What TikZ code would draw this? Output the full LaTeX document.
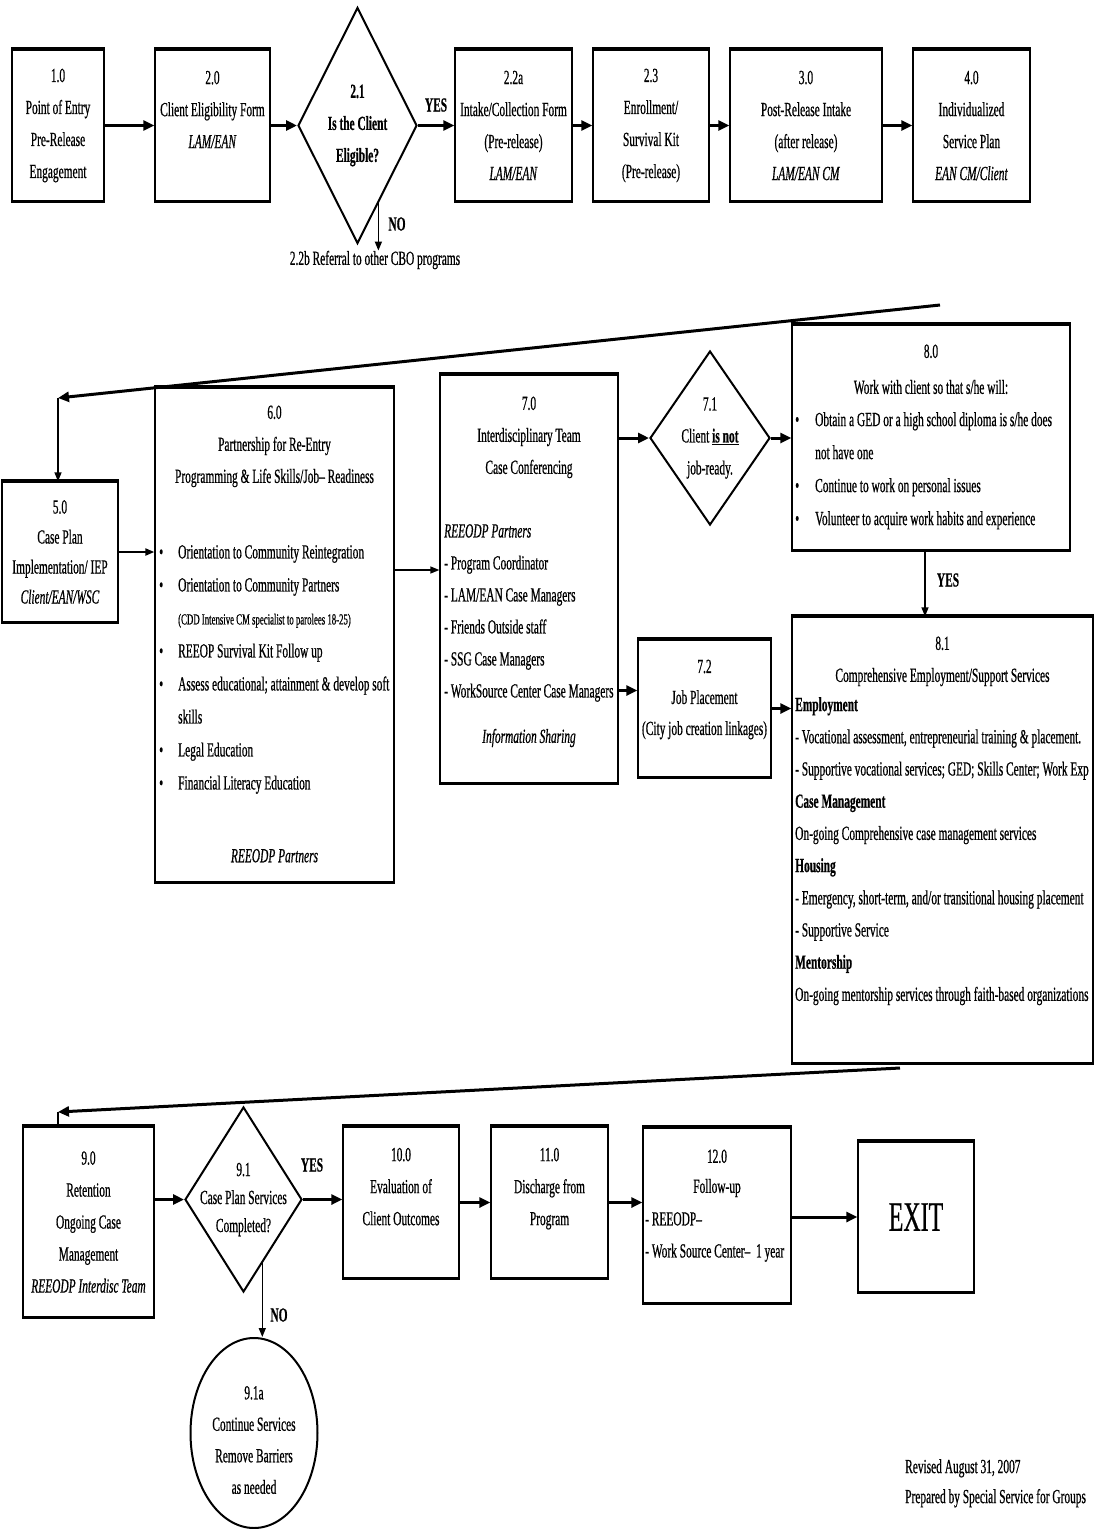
\documentclass[tikz,border=0pt]{standalone}
\usepackage{fontspec}
\setmainfont{Liberation Serif}[FakeStretch=0.57,FakeBold=0.6]
\usepackage{tikz}
\usetikzlibrary{positioning,shapes.geometric,arrows.meta,calc}

\newcommand{\bx}{\fontsize{20}{32}\selectfont}
\newcommand{\listbul}{\makebox[19pt][l]{\textbullet}}

\begin{document}
\begin{tikzpicture}[x=1pt,y=-1pt,
		every node/.style={font=\bx, inner sep=0pt},
		box/.style={rectangle, draw, line width=1.3pt, align=center},
		dec/.style={diamond, draw, line width=2pt},
		txt/.style={align=center},
		lst/.style={align=left},
		lbl/.style={font=\bx\bfseries},
		arr/.style={-{Triangle[length=11pt,width=10pt]}, line width=3pt},
		tarr/.style={-{Triangle[length=9pt,width=7pt]}, line width=1.4pt}
	]
	\useasboundingbox (0,0) rectangle (1094,1529);

	% prima riga
	\node[box, minimum width=92pt, minimum height=151pt] (n10) at (58,125.5) {1.0\\Point of Entry\\Pre-Release\\Engagement};
	\node[box, minimum width=115pt, minimum height=151pt] (n20) at (212.5,125.5) {2.0\\Client Eligibility Form\\\textit{LAM/EAN}\\\mbox{}};
	\node[dec, minimum width=119pt, minimum height=236pt] (n21) at (357.5,125.5) {};
	\node[txt, lbl] (n21t) at (n21) {2.1\\Is the Client\\Eligible?};
	\node[box, minimum width=117pt, minimum height=151pt] (n22a) at (513.5,125.5) {2.2a\\Intake/Collection Form\\(Pre-release)\\\textit{LAM/EAN}};
	\node[box, minimum width=116pt, minimum height=151pt] (n23) at (651,125.5) {2.3\\Enrollment/\\Survival Kit\\(Pre-release)};
	\node[box, minimum width=152pt, minimum height=151pt] (n30) at (806,125.5) {3.0\\Post-Release Intake\\(after release)\\\textit{LAM/EAN CM}};
	\node[box, minimum width=117pt, minimum height=151pt] (n40) at (971.5,125.5) {4.0\\Individualized\\Service Plan\\\textit{EAN CM/Client}};
	\node (n22b) at (375,260) {2.2b Referral to other CBO programs};
	\node[lbl] (lyes1) at (436,105) {YES};
	\node[lbl] (lno1) at (397,224) {NO};

	% seconda riga
	\node[box, minimum width=116pt, minimum height=140pt, font=\fontsize{20}{30}\selectfont] (n50) at (60,552) {5.0\\Case Plan\\Implementation/ IEP\\\textit{Client/EAN/WSC}};

	\node[box, minimum width=239pt, minimum height=494pt] (n60) at (274.5,635) {};
	\node[txt, below=18pt of n60.north] (n60h) {6.0\\Partnership for Re-Entry\\Programming \& Life Skills/Job-- Readiness};
	\node[lst, anchor=north west, font=\fontsize{20}{33}\selectfont] (n60l) at (159,545) {%
		\listbul Orientation to Community Reintegration\\
		\listbul Orientation to Community Partners\\
		\hspace*{19pt}{\fontsize{15.4}{33}\selectfont(CDD Intensive CM specialist to parolees 18-25)}\\
		\listbul REEOP Survival Kit Follow up\\
		\listbul Assess educational; attainment \& develop soft\\
		\hspace*{19pt}skills\\
		\listbul Legal Education\\
		\listbul Financial Literacy Education};
	\node[font=\bx\itshape, above=20pt of n60.south] (n60p) {REEODP Partners};

	\node[box, minimum width=178pt, minimum height=408pt] (n70) at (529,579) {};
	\node[txt, below=22pt of n70.north] (n70h) {7.0\\Interdisciplinary Team\\Case Conferencing};
	\node[lst, anchor=north west] (n70l) at (444,524) {%
		\textit{REEODP Partners}\\
		- Program Coordinator\\
		- LAM/EAN Case Managers\\
		- Friends Outside staff\\
		- SSG Case Managers\\
		- WorkSource Center Case Managers};
	\node[font=\bx\itshape] (n70f) at (529,738) {Information Sharing};

	\node[dec, minimum width=120pt, minimum height=174pt] (n71) at (710,438) {};
	\node[txt] (n71t) at (n71) {7.1\\Client \underline{\textbf{is not}}\\job-ready.};

	\node[box, minimum width=133pt, minimum height=137pt] (n72) at (704.5,708.5) {};
	\node[txt, font=\fontsize{20}{31}\selectfont] (n72t) at ([yshift=9pt]n72.center) {7.2\\Job Placement\\(City job creation linkages)};

	\node[box, minimum width=278pt, minimum height=225pt] (n80) at (931,437.5) {};
	\node[txt, below=20pt of n80.north, font=\fontsize{20}{36}\selectfont] (n80h) {8.0\\Work with client so that s/he will:};
	\node[lst, anchor=north west, font=\fontsize{20}{33}\selectfont] (n80l) at (795,412) {%
		\makebox[20pt][l]{\textbullet}Obtain a GED or a high school diploma is s/he does\\
		\hspace*{20pt}not have one\\
		\makebox[20pt][l]{\textbullet}Continue to work on personal issues\\
		\makebox[20pt][l]{\textbullet}Volunteer to acquire work habits and experience};
	\node[lbl] (lyes2) at (948,580) {YES};

	\node[box, minimum width=301pt, minimum height=446pt] (n81) at (942.5,840) {};
	\node[txt, below=20pt of n81.north] (n81h) {8.1\\Comprehensive Employment/Support Services};
	\node[lst, anchor=north west, font=\fontsize{20}{32.2}\selectfont] (n81l) at (795,697) {%
		\textbf{Employment}\\
		- Vocational assessment, entrepreneurial training \& placement.\\
		- Supportive vocational services; GED; Skills Center; Work Exp\\
		\textbf{Case Management}\\
		On-going Comprehensive case management services\\
		\textbf{Housing}\\
		- Emergency, short-term, and/or transitional housing placement\\
		- Supportive Service\\
		\textbf{Mentorship}\\
		On-going mentorship services through faith-based organizations};

	% terza riga
	\node[box, minimum width=131pt, minimum height=190pt] (n90) at (88.5,1222) {9.0\\Retention\\Ongoing Case\\Management\\\textit{REEODP Interdisc Team}};
	\node[dec, minimum width=117pt, minimum height=185pt] (n91) at (243.5,1199.5) {};
	\node[txt, font=\fontsize{20}{28}\selectfont] (n91t) at (n91) {9.1\\Case Plan Services\\Completed?};
	\node[lbl] (lyes3) at (312,1165) {YES};
	\node[lbl] (lno3) at (279,1315) {NO};
	\node[ellipse, draw, line width=2pt, minimum width=127pt, minimum height=190pt] (n91a) at (254,1433) {};
	\node[txt, font=\fontsize{20}{31.5}\selectfont] (n91at) at ([yshift=-7pt]n91a.center) {9.1a\\Continue Services\\Remove Barriers\\as needed};

	\node[box, minimum width=116pt, minimum height=151pt] (n100) at (401,1202.5) {10.0\\Evaluation of\\Client Outcomes\\\mbox{}};
	\node[box, minimum width=117pt, minimum height=151pt] (n110) at (549.5,1202.5) {11.0\\Discharge from\\Program\\\mbox{}};
	\node[box, minimum width=148pt, minimum height=175pt] (n120) at (717,1215.5) {};
	\node[txt, below=22pt of n120.north, font=\fontsize{20}{30}\selectfont] (n120h) {12.0\\Follow-up};
	\node[lst, anchor=north west] (n120l) at (645,1212) {- REEODP--\\- Work Source Center--\ \ 1 year};
	\node[box, minimum width=116pt, minimum height=150pt, font=\fontsize{42}{44}\selectfont] (nexit) at (916,1217) {EXIT};

	\node[lst, anchor=north west, font=\fontsize{20}{30}\selectfont] (nfoot) at (905,1459) {Revised August 31, 2007\\Prepared by Special Service for Groups};

	% bordi spessi sopra e sotto
	\foreach \n in {n10,n20,n22a,n23,n30,n40,n50,n60,n70,n72,n80,n81,n90,n100,n110,n120,nexit}{
		\draw[line width=4pt] (\n.north west) -- (\n.north east);
		\draw[line width=3pt] (\n.south west) -- (\n.south east);
	}

	% frecce
	\draw[arr] (n10) -- (n20);
	\draw[arr] (n20.east) -- (n21.west);
	\draw[arr] (n21.east) -- (n22a.west);
	\draw[arr] (n22a) -- (n23);
	\draw[arr] (n23) -- (n30);
	\draw[arr] (n30) -- (n40);
	\coordinate (no1) at ($(n21.south)!0.345!(n21.east)$);
	\draw[tarr] (no1) -- (no1 |- n22b.north);

	\coordinate (d1s) at (940,305);
	\coordinate (d1e) at (58,398);
	\draw[arr] (d1s) -- (d1e);
	\draw[tarr] (d1e) -- (d1e |- n50.north);
	\draw[tarr, line width=2pt] (n50.east) -- (n50.east -| n60.west);
	\coordinate (a67) at ([yshift=9pt]n70.west);
	\draw[tarr] (n60.east |- a67) -- (a67);
	\draw[arr] (n70.east |- n71.west) -- (n71.west);
	\draw[arr] (n71.east) -- (n71.east -| n80.west);
	\coordinate (a772) at ([yshift=18pt]n72.west);
	\draw[arr] (n70.east |- a772) -- (a772);
	\draw[arr] (n72.east) -- (n72.east -| n81.west);
	\coordinate (y8) at ([xshift=-6pt]n80.south);
	\draw[tarr] (y8) -- (y8 |- n81.north);

	\coordinate (d2s) at (900,1068);
	\coordinate (d2e) at (58,1112);
	\draw[arr] (d2s) -- (d2e);
	\draw[line width=1.5pt] (d2e) -- (d2e |- n90.north);
	\draw[arr] (n90.east |- n91.west) -- (n91.west);
	\draw[arr] (n91.east) -- (n91.east -| n100.west);
	\draw[arr] (n100) -- (n110);
	\draw[arr] (n110.east |- n100.east) -- (n120.west |- n100.east);
	\draw[arr] (n120.east |- nexit.west) -- (nexit.west);
	\coordinate (no3) at ($(n91.south)!0.316!(n91.east)$);
	\draw[tarr] (no3) -- (no3 |- n91a.north);
\end{tikzpicture}
\end{document}
